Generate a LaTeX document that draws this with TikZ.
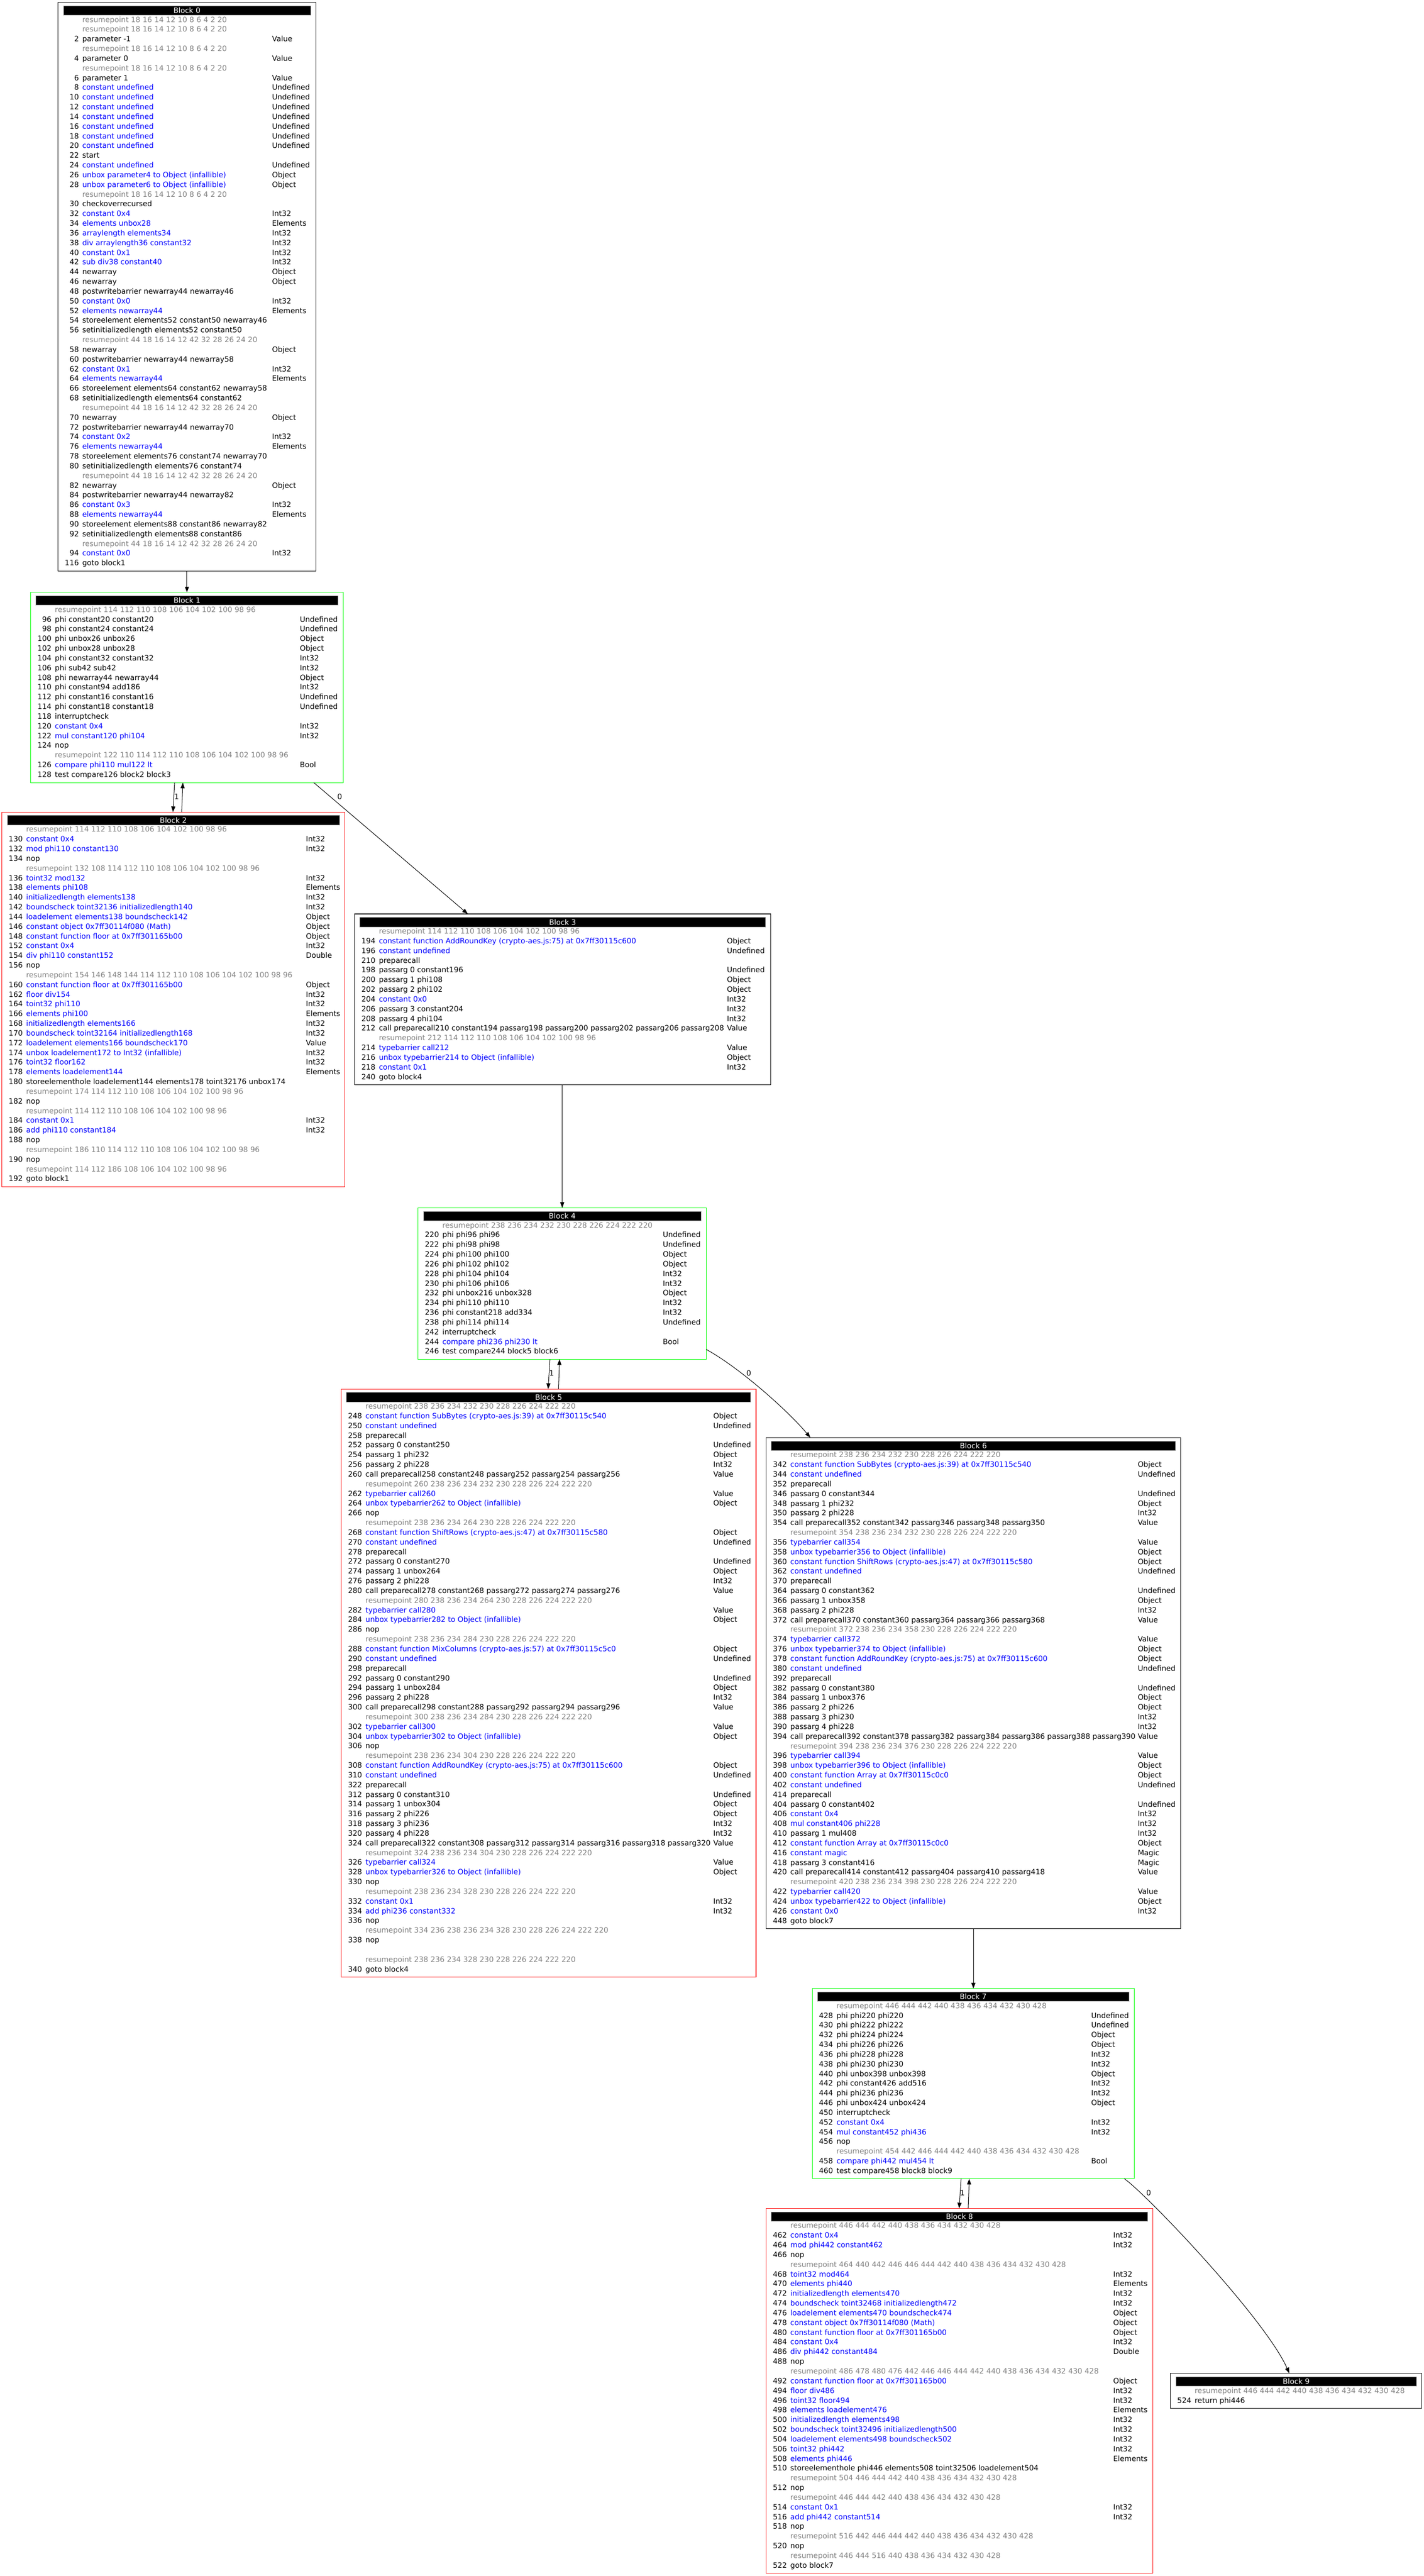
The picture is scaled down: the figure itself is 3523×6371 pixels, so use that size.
\documentclass[tikz,border=0pt]{standalone}
\usepackage{fontspec}
\setmainfont{DejaVu Sans}
\usetikzlibrary{arrows.meta,calc}
\definecolor{irblue}{RGB}{0,0,255}
\definecolor{rpgray}{RGB}{128,128,128}
\definecolor{gvgreen}{RGB}{0,255,0}
\definecolor{gvred}{RGB}{255,0,0}
\newcounter{rowc}
\newcommand\bfnt{\fontsize{9.1pt}{11pt}\selectfont}
\tikzset{
  blkframe/.style={rectangle,line width=0.65pt,inner sep=0pt,outer sep=0pt,anchor=north west},
  titlebar/.style={rectangle,fill=black,draw=gray!70,line width=0.5pt,text=white,inner sep=0pt,outer sep=0pt,minimum height=11.85pt,anchor=north west,font=\bfnt},
  numtxt/.style={anchor=base east,inner sep=0pt,outer sep=0pt,font=\bfnt},
  instr/.style={anchor=base west,inner sep=0pt,outer sep=0pt,font=\bfnt},
  typetxt/.style={anchor=base west,inner sep=0pt,outer sep=0pt,font=\bfnt},
  flow/.style={line width=0.65pt,-{Triangle[length=7pt,width=5pt]}},
  elabel/.style={inner sep=0pt,outer sep=0pt,font=\bfnt}
}
\newcommand\blockbox[8]{%
  \def\bN{#1}%
  \pgfmathsetmacro\bL{#2}%
  \pgfmathsetmacro\bT{#4}%
  \pgfmathsetmacro\bV{#6}%
  \pgfmathsetmacro\bW{(#3-#2)*0.5}%
  \pgfmathsetmacro\bH{(62.5+24*(#5-1))*0.5}%
  \pgfmathsetmacro\tW{(#3-#2-26)*0.5}%
  \node[blkframe,draw=#7,minimum width=\bW pt,minimum height=\bH pt] (#1) at (\bL,\bT) {};%
  \node[titlebar,minimum width=\tW pt] (#1t) at (\bL+13,\bT+8.3) {#8};%
  \setcounter{rowc}{0}%
}
\newcommand\typenode[1]{\if\relax\detokenize{#1}\relax\else\node[typetxt] (\bN r\therowc c) at (\bV,\rY) {#1};\fi}
\newcommand\rowgen[4]{%
  \stepcounter{rowc}%
  \pgfmathsetmacro\rY{\bT+49.1+24*(\the\value{rowc}-1)}%
  \node[numtxt] (\bN r\therowc a) at (\bL+51.5,\rY) {#1};%
  \node[instr,text=#4] (\bN r\therowc b) at (\bL+60,\rY) {#2};%
  \typenode{#3}%
}
\newcommand\rowK[3]{\rowgen{#1}{#2}{#3}{black}}
\newcommand\rowB[3]{\rowgen{#1}{#2}{#3}{irblue}}
\newcommand\rowP[1]{%
  \stepcounter{rowc}%
  \pgfmathsetmacro\rY{\bT+49.1+24*(\the\value{rowc}-1)}%
  \node[instr,text=rpgray] (\bN r\therowc b) at (\bL+60,\rY) {#1};%
}
\newcommand\rowskip{\stepcounter{rowc}}
\begin{document}
\begin{tikzpicture}[x=0.5pt,y=-0.5pt]
\useasboundingbox (0,0) rectangle (3523,6371);
% ---------------- Block 0
\blockbox{b0}{143.7}{781.3}{5.7}{57}{673.3}{black}{Block 0}
\rowP{resumepoint 18 16 14 12 10 8 6 4 2 20}
\rowP{resumepoint 18 16 14 12 10 8 6 4 2 20}
\rowK{2}{parameter -1}{Value}
\rowP{resumepoint 18 16 14 12 10 8 6 4 2 20}
\rowK{4}{parameter 0}{Value}
\rowP{resumepoint 18 16 14 12 10 8 6 4 2 20}
\rowK{6}{parameter 1}{Value}
\rowB{8}{constant undefined}{Undefined}
\rowB{10}{constant undefined}{Undefined}
\rowB{12}{constant undefined}{Undefined}
\rowB{14}{constant undefined}{Undefined}
\rowB{16}{constant undefined}{Undefined}
\rowB{18}{constant undefined}{Undefined}
\rowB{20}{constant undefined}{Undefined}
\rowK{22}{start}{}
\rowB{24}{constant undefined}{Undefined}
\rowB{26}{unbox parameter4 to Object (infallible)}{Object}
\rowB{28}{unbox parameter6 to Object (infallible)}{Object}
\rowP{resumepoint 18 16 14 12 10 8 6 4 2 20}
\rowK{30}{checkoverrecursed}{}
\rowB{32}{constant 0x4}{Int32}
\rowB{34}{elements unbox28}{Elements}
\rowB{36}{arraylength elements34}{Int32}
\rowB{38}{div arraylength36 constant32}{Int32}
\rowB{40}{constant 0x1}{Int32}
\rowB{42}{sub div38 constant40}{Int32}
\rowK{44}{newarray}{Object}
\rowK{46}{newarray}{Object}
\rowK{48}{postwritebarrier newarray44 newarray46}{}
\rowB{50}{constant 0x0}{Int32}
\rowB{52}{elements newarray44}{Elements}
\rowK{54}{storeelement elements52 constant50 newarray46}{}
\rowK{56}{setinitializedlength elements52 constant50}{}
\rowP{resumepoint 44 18 16 14 12 42 32 28 26 24 20}
\rowK{58}{newarray}{Object}
\rowK{60}{postwritebarrier newarray44 newarray58}{}
\rowB{62}{constant 0x1}{Int32}
\rowB{64}{elements newarray44}{Elements}
\rowK{66}{storeelement elements64 constant62 newarray58}{}
\rowK{68}{setinitializedlength elements64 constant62}{}
\rowP{resumepoint 44 18 16 14 12 42 32 28 26 24 20}
\rowK{70}{newarray}{Object}
\rowK{72}{postwritebarrier newarray44 newarray70}{}
\rowB{74}{constant 0x2}{Int32}
\rowB{76}{elements newarray44}{Elements}
\rowK{78}{storeelement elements76 constant74 newarray70}{}
\rowK{80}{setinitializedlength elements76 constant74}{}
\rowP{resumepoint 44 18 16 14 12 42 32 28 26 24 20}
\rowK{82}{newarray}{Object}
\rowK{84}{postwritebarrier newarray44 newarray82}{}
\rowB{86}{constant 0x3}{Int32}
\rowB{88}{elements newarray44}{Elements}
\rowK{90}{storeelement elements88 constant86 newarray82}{}
\rowK{92}{setinitializedlength elements88 constant86}{}
\rowP{resumepoint 44 18 16 14 12 42 32 28 26 24 20}
\rowB{94}{constant 0x0}{Int32}
\rowK{116}{goto block1}{}
% ---------------- Block 1
\blockbox{b1}{76}{849.4}{1465}{18}{742}{gvgreen}{Block 1}
\rowP{resumepoint 114 112 110 108 106 104 102 100 98 96}
\rowK{96}{phi constant20 constant20}{Undefined}
\rowK{98}{phi constant24 constant24}{Undefined}
\rowK{100}{phi unbox26 unbox26}{Object}
\rowK{102}{phi unbox28 unbox28}{Object}
\rowK{104}{phi constant32 constant32}{Int32}
\rowK{106}{phi sub42 sub42}{Int32}
\rowK{108}{phi newarray44 newarray44}{Object}
\rowK{110}{phi constant94 add186}{Int32}
\rowK{112}{phi constant16 constant16}{Undefined}
\rowK{114}{phi constant18 constant18}{Undefined}
\rowK{118}{interruptcheck}{}
\rowB{120}{constant 0x4}{Int32}
\rowB{122}{mul constant120 phi104}{Int32}
\rowK{124}{nop}{}
\rowP{resumepoint 122 110 114 112 110 108 106 104 102 100 98 96}
\rowB{126}{compare phi110 mul122 lt}{Bool}
\rowK{128}{test compare126 block2 block3}{}
% ---------------- Block 2
\blockbox{b2}{4.8}{853}{2008.5}{37}{757}{gvred}{Block 2}
\rowP{resumepoint 114 112 110 108 106 104 102 100 98 96}
\rowB{130}{constant 0x4}{Int32}
\rowB{132}{mod phi110 constant130}{Int32}
\rowK{134}{nop}{}
\rowP{resumepoint 132 108 114 112 110 108 106 104 102 100 98 96}
\rowB{136}{toint32 mod132}{Int32}
\rowB{138}{elements phi108}{Elements}
\rowB{140}{initializedlength elements138}{Int32}
\rowB{142}{boundscheck toint32136 initializedlength140}{Int32}
\rowB{144}{loadelement elements138 boundscheck142}{Object}
\rowB{146}{constant object 0x7ff30114f080 (Math)}{Object}
\rowB{148}{constant function floor at 0x7ff301165b00}{Object}
\rowB{152}{constant 0x4}{Int32}
\rowB{154}{div phi110 constant152}{Double}
\rowK{156}{nop}{}
\rowP{resumepoint 154 146 148 144 114 112 110 108 106 104 102 100 98 96}
\rowB{160}{constant function floor at 0x7ff301165b00}{Object}
\rowB{162}{floor div154}{Int32}
\rowB{164}{toint32 phi110}{Int32}
\rowB{166}{elements phi100}{Elements}
\rowB{168}{initializedlength elements166}{Int32}
\rowB{170}{boundscheck toint32164 initializedlength168}{Int32}
\rowB{172}{loadelement elements166 boundscheck170}{Value}
\rowB{174}{unbox loadelement172 to Int32 (infallible)}{Int32}
\rowB{176}{toint32 floor162}{Int32}
\rowB{178}{elements loadelement144}{Elements}
\rowK{180}{storeelementhole loadelement144 elements178 toint32176 unbox174}{}
\rowP{resumepoint 174 114 112 110 108 106 104 102 100 98 96}
\rowK{182}{nop}{}
\rowP{resumepoint 114 112 110 108 106 104 102 100 98 96}
\rowB{184}{constant 0x1}{Int32}
\rowB{186}{add phi110 constant184}{Int32}
\rowK{188}{nop}{}
\rowP{resumepoint 186 110 114 112 110 108 106 104 102 100 98 96}
\rowK{190}{nop}{}
\rowP{resumepoint 114 112 186 108 106 104 102 100 98 96}
\rowK{192}{goto block1}{}
% ---------------- Block 3
\blockbox{b3}{877.5}{1906.5}{2260.4}{16}{1798.6}{black}{Block 3}
\rowP{resumepoint 114 112 110 108 106 104 102 100 98 96}
\rowB{194}{constant function AddRoundKey (crypto-aes.js:75) at 0x7ff30115c600}{Object}
\rowB{196}{constant undefined}{Undefined}
\rowK{210}{preparecall}{}
\rowK{198}{passarg 0 constant196}{Undefined}
\rowK{200}{passarg 1 phi108}{Object}
\rowK{202}{passarg 2 phi102}{Object}
\rowB{204}{constant 0x0}{Int32}
\rowK{206}{passarg 3 constant204}{Int32}
\rowK{208}{passarg 4 phi104}{Int32}
\rowK{212}{call preparecall210 constant194 passarg198 passarg200 passarg202 passarg206 passarg208}{Value}
\rowP{resumepoint 212 114 112 110 108 106 104 102 100 98 96}
\rowB{214}{typebarrier call212}{Value}
\rowB{216}{unbox typebarrier214 to Object (infallible)}{Object}
\rowB{218}{constant 0x1}{Int32}
\rowK{240}{goto block4}{}
% ---------------- Block 4
\blockbox{b4}{1034.6}{1747.4}{2987.3}{14}{1640}{gvgreen}{Block 4}
\rowP{resumepoint 238 236 234 232 230 228 226 224 222 220}
\rowK{220}{phi phi96 phi96}{Undefined}
\rowK{222}{phi phi98 phi98}{Undefined}
\rowK{224}{phi phi100 phi100}{Object}
\rowK{226}{phi phi102 phi102}{Object}
\rowK{228}{phi phi104 phi104}{Int32}
\rowK{230}{phi phi106 phi106}{Int32}
\rowK{232}{phi unbox216 unbox328}{Object}
\rowK{234}{phi phi110 phi110}{Int32}
\rowK{236}{phi constant218 add334}{Int32}
\rowK{238}{phi phi114 phi114}{Undefined}
\rowK{242}{interruptcheck}{}
\rowB{244}{compare phi236 phi230 lt}{Bool}
\rowK{246}{test compare244 block5 block6}{}
% ---------------- Block 5
\blockbox{b5}{844.3}{1870.5}{3435.3}{59}{1764.8}{gvred}{Block 5}
\rowP{resumepoint 238 236 234 232 230 228 226 224 222 220}
\rowB{248}{constant function SubBytes (crypto-aes.js:39) at 0x7ff30115c540}{Object}
\rowB{250}{constant undefined}{Undefined}
\rowK{258}{preparecall}{}
\rowK{252}{passarg 0 constant250}{Undefined}
\rowK{254}{passarg 1 phi232}{Object}
\rowK{256}{passarg 2 phi228}{Int32}
\rowK{260}{call preparecall258 constant248 passarg252 passarg254 passarg256}{Value}
\rowP{resumepoint 260 238 236 234 232 230 228 226 224 222 220}
\rowB{262}{typebarrier call260}{Value}
\rowB{264}{unbox typebarrier262 to Object (infallible)}{Object}
\rowK{266}{nop}{}
\rowP{resumepoint 238 236 234 264 230 228 226 224 222 220}
\rowB{268}{constant function ShiftRows (crypto-aes.js:47) at 0x7ff30115c580}{Object}
\rowB{270}{constant undefined}{Undefined}
\rowK{278}{preparecall}{}
\rowK{272}{passarg 0 constant270}{Undefined}
\rowK{274}{passarg 1 unbox264}{Object}
\rowK{276}{passarg 2 phi228}{Int32}
\rowK{280}{call preparecall278 constant268 passarg272 passarg274 passarg276}{Value}
\rowP{resumepoint 280 238 236 234 264 230 228 226 224 222 220}
\rowB{282}{typebarrier call280}{Value}
\rowB{284}{unbox typebarrier282 to Object (infallible)}{Object}
\rowK{286}{nop}{}
\rowP{resumepoint 238 236 234 284 230 228 226 224 222 220}
\rowB{288}{constant function MixColumns (crypto-aes.js:57) at 0x7ff30115c5c0}{Object}
\rowB{290}{constant undefined}{Undefined}
\rowK{298}{preparecall}{}
\rowK{292}{passarg 0 constant290}{Undefined}
\rowK{294}{passarg 1 unbox284}{Object}
\rowK{296}{passarg 2 phi228}{Int32}
\rowK{300}{call preparecall298 constant288 passarg292 passarg294 passarg296}{Value}
\rowP{resumepoint 300 238 236 234 284 230 228 226 224 222 220}
\rowB{302}{typebarrier call300}{Value}
\rowB{304}{unbox typebarrier302 to Object (infallible)}{Object}
\rowK{306}{nop}{}
\rowP{resumepoint 238 236 234 304 230 228 226 224 222 220}
\rowB{308}{constant function AddRoundKey (crypto-aes.js:75) at 0x7ff30115c600}{Object}
\rowB{310}{constant undefined}{Undefined}
\rowK{322}{preparecall}{}
\rowK{312}{passarg 0 constant310}{Undefined}
\rowK{314}{passarg 1 unbox304}{Object}
\rowK{316}{passarg 2 phi226}{Object}
\rowK{318}{passarg 3 phi236}{Int32}
\rowK{320}{passarg 4 phi228}{Int32}
\rowK{324}{call preparecall322 constant308 passarg312 passarg314 passarg316 passarg318 passarg320}{Value}
\rowP{resumepoint 324 238 236 234 304 230 228 226 224 222 220}
\rowB{326}{typebarrier call324}{Value}
\rowB{328}{unbox typebarrier326 to Object (infallible)}{Object}
\rowK{330}{nop}{}
\rowP{resumepoint 238 236 234 328 230 228 226 224 222 220}
\rowB{332}{constant 0x1}{Int32}
\rowB{334}{add phi236 constant332}{Int32}
\rowK{336}{nop}{}
\rowP{resumepoint 334 236 238 236 234 328 230 228 226 224 222 220}
\rowK{338}{nop}{}
\rowskip
\rowP{resumepoint 238 236 234 328 230 228 226 224 222 220}
\rowK{340}{goto block4}{}
% ---------------- Block 6
\blockbox{b6}{1895.5}{2921}{3555.5}{49}{2815}{black}{Block 6}
\rowP{resumepoint 238 236 234 232 230 228 226 224 222 220}
\rowB{342}{constant function SubBytes (crypto-aes.js:39) at 0x7ff30115c540}{Object}
\rowB{344}{constant undefined}{Undefined}
\rowK{352}{preparecall}{}
\rowK{346}{passarg 0 constant344}{Undefined}
\rowK{348}{passarg 1 phi232}{Object}
\rowK{350}{passarg 2 phi228}{Int32}
\rowK{354}{call preparecall352 constant342 passarg346 passarg348 passarg350}{Value}
\rowP{resumepoint 354 238 236 234 232 230 228 226 224 222 220}
\rowB{356}{typebarrier call354}{Value}
\rowB{358}{unbox typebarrier356 to Object (infallible)}{Object}
\rowB{360}{constant function ShiftRows (crypto-aes.js:47) at 0x7ff30115c580}{Object}
\rowB{362}{constant undefined}{Undefined}
\rowK{370}{preparecall}{}
\rowK{364}{passarg 0 constant362}{Undefined}
\rowK{366}{passarg 1 unbox358}{Object}
\rowK{368}{passarg 2 phi228}{Int32}
\rowK{372}{call preparecall370 constant360 passarg364 passarg366 passarg368}{Value}
\rowP{resumepoint 372 238 236 234 358 230 228 226 224 222 220}
\rowB{374}{typebarrier call372}{Value}
\rowB{376}{unbox typebarrier374 to Object (infallible)}{Object}
\rowB{378}{constant function AddRoundKey (crypto-aes.js:75) at 0x7ff30115c600}{Object}
\rowB{380}{constant undefined}{Undefined}
\rowK{392}{preparecall}{}
\rowK{382}{passarg 0 constant380}{Undefined}
\rowK{384}{passarg 1 unbox376}{Object}
\rowK{386}{passarg 2 phi226}{Object}
\rowK{388}{passarg 3 phi230}{Int32}
\rowK{390}{passarg 4 phi228}{Int32}
\rowK{394}{call preparecall392 constant378 passarg382 passarg384 passarg386 passarg388 passarg390}{Value}
\rowP{resumepoint 394 238 236 234 376 230 228 226 224 222 220}
\rowB{396}{typebarrier call394}{Value}
\rowB{398}{unbox typebarrier396 to Object (infallible)}{Object}
\rowB{400}{constant function Array at 0x7ff30115c0c0}{Object}
\rowB{402}{constant undefined}{Undefined}
\rowK{414}{preparecall}{}
\rowK{404}{passarg 0 constant402}{Undefined}
\rowB{406}{constant 0x4}{Int32}
\rowB{408}{mul constant406 phi228}{Int32}
\rowK{410}{passarg 1 mul408}{Int32}
\rowB{412}{constant function Array at 0x7ff30115c0c0}{Object}
\rowB{416}{constant magic}{Magic}
\rowK{418}{passarg 3 constant416}{Magic}
\rowK{420}{call preparecall414 constant412 passarg404 passarg410 passarg418}{Value}
\rowP{resumepoint 420 238 236 234 398 230 228 226 224 222 220}
\rowB{422}{typebarrier call420}{Value}
\rowB{424}{unbox typebarrier422 to Object (infallible)}{Object}
\rowB{426}{constant 0x0}{Int32}
\rowK{448}{goto block7}{}
% ---------------- Block 7
\blockbox{b7}{2009.6}{2806}{4918}{18}{2699.7}{gvgreen}{Block 7}
\rowP{resumepoint 446 444 442 440 438 436 434 432 430 428}
\rowK{428}{phi phi220 phi220}{Undefined}
\rowK{430}{phi phi222 phi222}{Undefined}
\rowK{432}{phi phi224 phi224}{Object}
\rowK{434}{phi phi226 phi226}{Object}
\rowK{436}{phi phi228 phi228}{Int32}
\rowK{438}{phi phi230 phi230}{Int32}
\rowK{440}{phi unbox398 unbox398}{Object}
\rowK{442}{phi constant426 add516}{Int32}
\rowK{444}{phi phi236 phi236}{Int32}
\rowK{446}{phi unbox424 unbox424}{Object}
\rowK{450}{interruptcheck}{}
\rowB{452}{constant 0x4}{Int32}
\rowB{454}{mul constant452 phi436}{Int32}
\rowK{456}{nop}{}
\rowP{resumepoint 454 442 446 444 442 440 438 436 434 432 430 428}
\rowB{458}{compare phi442 mul454 lt}{Bool}
\rowK{460}{test compare458 block8 block9}{}
% ---------------- Block 8
\blockbox{b8}{1895.5}{2852.3}{5461.7}{36}{2754.3}{gvred}{Block 8}
\rowP{resumepoint 446 444 442 440 438 436 434 432 430 428}
\rowB{462}{constant 0x4}{Int32}
\rowB{464}{mod phi442 constant462}{Int32}
\rowK{466}{nop}{}
\rowP{resumepoint 464 440 442 446 446 444 442 440 438 436 434 432 430 428}
\rowB{468}{toint32 mod464}{Int32}
\rowB{470}{elements phi440}{Elements}
\rowB{472}{initializedlength elements470}{Int32}
\rowB{474}{boundscheck toint32468 initializedlength472}{Int32}
\rowB{476}{loadelement elements470 boundscheck474}{Object}
\rowB{478}{constant object 0x7ff30114f080 (Math)}{Object}
\rowB{480}{constant function floor at 0x7ff301165b00}{Object}
\rowB{484}{constant 0x4}{Int32}
\rowB{486}{div phi442 constant484}{Double}
\rowK{488}{nop}{}
\rowP{resumepoint 486 478 480 476 442 446 446 444 442 440 438 436 434 432 430 428}
\rowB{492}{constant function floor at 0x7ff301165b00}{Object}
\rowB{494}{floor div486}{Int32}
\rowB{496}{toint32 floor494}{Int32}
\rowB{498}{elements loadelement476}{Elements}
\rowB{500}{initializedlength elements498}{Int32}
\rowB{502}{boundscheck toint32496 initializedlength500}{Int32}
\rowB{504}{loadelement elements498 boundscheck502}{Int32}
\rowB{506}{toint32 phi442}{Int32}
\rowB{508}{elements phi446}{Elements}
\rowK{510}{storeelementhole phi446 elements508 toint32506 loadelement504}{}
\rowP{resumepoint 504 446 444 442 440 438 436 434 432 430 428}
\rowK{512}{nop}{}
\rowP{resumepoint 446 444 442 440 438 436 434 432 430 428}
\rowB{514}{constant 0x1}{Int32}
\rowB{516}{add phi442 constant514}{Int32}
\rowK{518}{nop}{}
\rowP{resumepoint 516 442 446 444 442 440 438 436 434 432 430 428}
\rowK{520}{nop}{}
\rowP{resumepoint 446 444 516 440 438 436 434 432 430 428}
\rowK{522}{goto block7}{}
% ---------------- Block 9
\blockbox{b9}{2896}{3518}{5869.7}{2}{3500}{black}{Block 9}
\rowP{resumepoint 446 444 442 440 438 436 434 432 430 428}
\rowK{524}{return phi446}{}
% ---------------- edges
\draw[flow] (b0.south) -- (b0.south |- b1.north);
\draw[flow] ($(b1.south)+(-30.7,0)$) -- ($(b2.north)+(-0.9,0)$);
\node[elabel] (l12) at (437,1970.4) {1};
\draw[flow] ($(b2.north)+(20.6,0)$) -- ($(b1.south)+(-10.3,0)$);
\draw[flow] ($(b1.south)+(313.6,0)$) -- ($(b3.north)+(-234.5,0)$);
\node[elabel] (l13) at (840.6,1970.6) {0};
\draw[flow] (b4.north |- b3.south) -- (b4.north);
\draw[flow] ($(b4.south)+(-30.3,0)$) -- ($(b5.north)+(-1.3,0)$);
\node[elabel] (l45) at (1365,3396.2) {1};
\draw[flow] ($(b5.north)+(24.4,0)$) -- ($(b4.south)+(-6.6,0)$);
\draw[flow] ($(b4.south east)+(0,-24.4)$) .. controls (1830,3382.7) and (1950,3489.5) .. ($(b6.north west)+(109.4,0)$);
\node[elabel] (l46) at (1852.4,3396.3) {0};
\draw[flow] (b6.south) -- (b6.south |- b7.north);
\draw[flow] ($(b7.south)+(-30,0)$) -- ($(b8.north)+(-0.8,0)$);
\node[elabel] (l78) at (2381,5423.3) {1};
\draw[flow] ($(b8.north)+(21.5,0)$) -- ($(b7.south)+(-9.7,0)$);
\draw[flow] ($(b7.south east)+(-24,0)$) .. controls (2840,5430) and (3130,5735) .. ($(b9.north)+(-17,0)$);
\node[elabel] (l79) at (2842,5423.3) {0};
\end{tikzpicture}
\end{document}
